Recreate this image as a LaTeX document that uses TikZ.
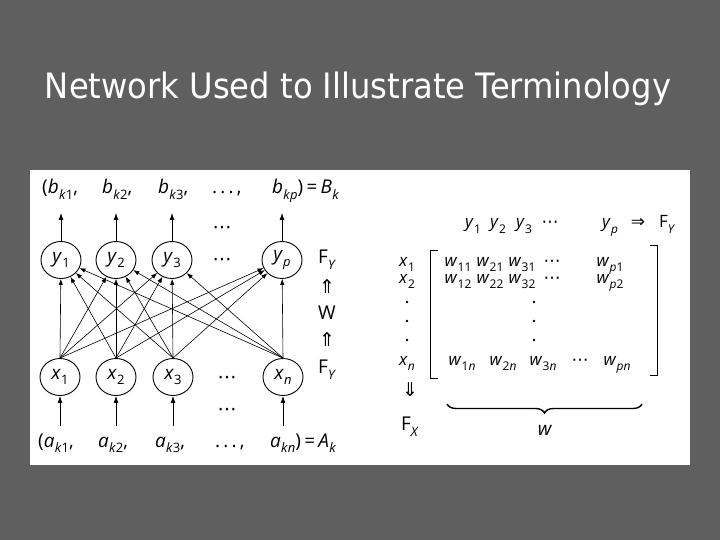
\documentclass[tikz,border=0pt]{standalone}
\usepackage{fontspec}
\setmainfont{Open Sans}
\newfontfamily\titlefont{DejaVu Sans}
\newfontfamily\symfont{DejaVu Sans}
\usetikzlibrary{shapes.geometric,arrows.meta,decorations.pathreplacing}
\definecolor{bg}{HTML}{5F5F5F}
\newcommand\subsz{13}
\newcommand\sbs[1]{\raisebox{-0.3em}{\fontsize{\subsz}{\subsz}\selectfont #1}}
\newcommand\vr[2]{\textit{#1}\kern0.3pt\sbs{#2}}
\newcommand\kk{\textit{k}}
\newcommand\cdts{{\symfont ⋯}}
\begin{document}
\begin{tikzpicture}[x=1pt,y=-1pt,font=\fontsize{19}{22}\selectfont,
  neuron/.style={draw,ellipse,line width=0.9pt,minimum width=40pt,minimum height=37pt,inner sep=0pt},
  arr/.style={-{Latex[length=7pt,width=5pt]},line width=0.8pt},
  lbl/.style={inner sep=0pt,anchor=base west},
  ctr/.style={inner sep=0pt,anchor=base,font=\fontsize{17}{20}\selectfont\def\subsz{12}},
  mdot/.style={circle,fill,inner sep=0pt,minimum size=2.6pt}]
\fill[bg] (0,0) rectangle (720,540);
\useasboundingbox (0,0) rectangle (720,540);
\fill[white] (30,170) rectangle (690,465);
\node[text=white,font=\titlefont\fontsize{35}{40}\selectfont,anchor=base,inner sep=0pt] (title) at (358,99)
  {\scalebox{0.92}[1]{Network Used to Illustrate Terminology}};

% top labels
\node[lbl] (b1) at (42,194) {(\vr{b}{\kk1},};
\node[lbl] (b2) at (102,194) {\vr{b}{\kk2},};
\node[lbl] (b3) at (158,194) {\vr{b}{\kk3},};
\node[lbl] (bd) at (212,194) {.\,.\,.\,,};
\node[lbl] (bp) at (272,194) {\vr{b}{\kk\textit{p}})\,=\,\vr{B}{\kk}};
% output neurons
\node[neuron] (y1) at (61,260) {\vr{y}{1}};
\node[neuron] (y2) at (116,260) {\vr{y}{2}};
\node[neuron] (y3) at (172,260) {\vr{y}{3}};
\node[neuron] (yp) at (282,260) {\vr{y}{\textit{p}}};
\node (ydots) at (222,262) {\cdts};
\node (tdots) at (222,230) {\cdts};
\coordinate (t1) at (61,213);
\coordinate (t2) at (116,213);
\coordinate (t3) at (172,213);
\coordinate (tp) at (282,213);
\draw[arr] (y1) -- (t1);
\draw[arr] (y2) -- (t2);
\draw[arr] (y3) -- (t3);
\draw[arr] (yp) -- (tp);
% input neurons
\node[neuron] (x1) at (60,377) {\vr{x}{1}};
\node[neuron] (x2) at (116,377) {\vr{x}{2}};
\node[neuron] (x3) at (173,377) {\vr{x}{3}};
\node[neuron] (xn) at (283,377) {\vr{x}{\textit{n}}};
\node (xdots) at (227,380) {\cdts};
\node (bdots) at (227,412) {\cdts};
\coordinate (s1) at (60,426);
\coordinate (s2) at (116,426);
\coordinate (s3) at (173,426);
\coordinate (sn) at (283,426);
\draw[arr] (s1) -- (x1);
\draw[arr] (s2) -- (x2);
\draw[arr] (s3) -- (x3);
\draw[arr] (sn) -- (xn);
% full connections
\foreach \i in {x1,x2,x3,xn}{
  \foreach \j in {y1,y2,y3,yp}{
    \draw[-{Latex[length=6pt,width=4.5pt]},line width=0.6pt] (\i.north) -- (\j);
  }
}
% bottom labels
\node[lbl] (a1) at (38,447) {(\vr{a}{\kk1},};
\node[lbl] (a2) at (98,447) {\vr{a}{\kk2},};
\node[lbl] (a3) at (155,447) {\vr{a}{\kk3},};
\node[lbl] (ad) at (215,447) {.\,.\,.\,,};
\node[lbl] (an) at (270,447) {\vr{a}{\kk\textit{n}})\,=\,\vr{A}{\kk}};
% side labels
\node (fy1) at (327,260) {F\sbs{\textit{Y}}};
\node (up1) at (327,287) {{\symfont ⇑}};
\node (wl) at (327,313) {W};
\node (up2) at (327,340) {{\symfont ⇑}};
\node (fy2) at (327,370) {F\sbs{\textit{Y}}};

% matrix header
\node[ctr] (h1) at (473,228) {\vr{y}{1}};
\node[ctr] (h2) at (498,228) {\vr{y}{2}};
\node[ctr] (h3) at (524,228) {\vr{y}{3}};
\node[ctr] (hd) at (550,228) {\cdts};
\node[ctr] (hp) at (610,228) {\vr{y}{\textit{p}}};
\node[ctr] (hr) at (638,228) {{\symfont ⇒}};
\node[ctr] (hf) at (667,228) {F\sbs{\textit{Y}}};
% row labels
\node[ctr] (r1) at (407,266) {\vr{x}{1}};
\node[ctr] (r2) at (407,283) {\vr{x}{2}};
\node[mdot] (rd1) at (407,302) {};
\node[mdot] (rd2) at (407,321) {};
\node[mdot] (rd3) at (407,340) {};
\node[ctr] (rn) at (407,365) {\vr{x}{\textit{n}}};
% brackets
\draw[line width=1pt] (438,250) -- (430,250) -- (430,378) -- (438,378);
\draw[line width=1pt] (650,245) -- (657,245) -- (657,375) -- (650,375);
% entries
\node[ctr] (w11) at (458,266) {\vr{w}{11}};
\node[ctr] (w21) at (490,266) {\vr{w}{21}};
\node[ctr] (w31) at (522,266) {\vr{w}{31}};
\node[ctr] (wd1) at (552,266) {\cdts};
\node[ctr] (wp1) at (610,266) {\vr{w}{\textit{p}1}};
\node[ctr] (w12) at (458,283) {\vr{w}{12}};
\node[ctr] (w22) at (490,283) {\vr{w}{22}};
\node[ctr] (w32) at (522,283) {\vr{w}{32}};
\node[ctr] (wd2) at (552,283) {\cdts};
\node[ctr] (wp2) at (610,283) {\vr{w}{\textit{p}2}};
\node[mdot] (cd1) at (534,302) {};
\node[mdot] (cd2) at (534,321) {};
\node[mdot] (cd3) at (534,340) {};
\node[ctr] (w1n) at (462,365) {\vr{w}{1\textit{n}}};
\node[ctr] (w2n) at (503,365) {\vr{w}{2\textit{n}}};
\node[ctr] (w3n) at (543,365) {\vr{w}{3\textit{n}}};
\node[ctr] (wdn) at (580,365) {\cdts};
\node[ctr] (wpn) at (617,365) {\vr{w}{\textit{pn}}};
% bottom
\node (dn) at (410,390) {{\symfont ⇓}};
\node (fx) at (410,427) {F\sbs{\textit{X}}};
\draw[decorate,decoration={brace,mirror,amplitude=9pt},line width=1.4pt] (447,404) -- (642,404);
\node (wbig) at (545,430) {\textit{w}};
\end{tikzpicture}
\end{document}
